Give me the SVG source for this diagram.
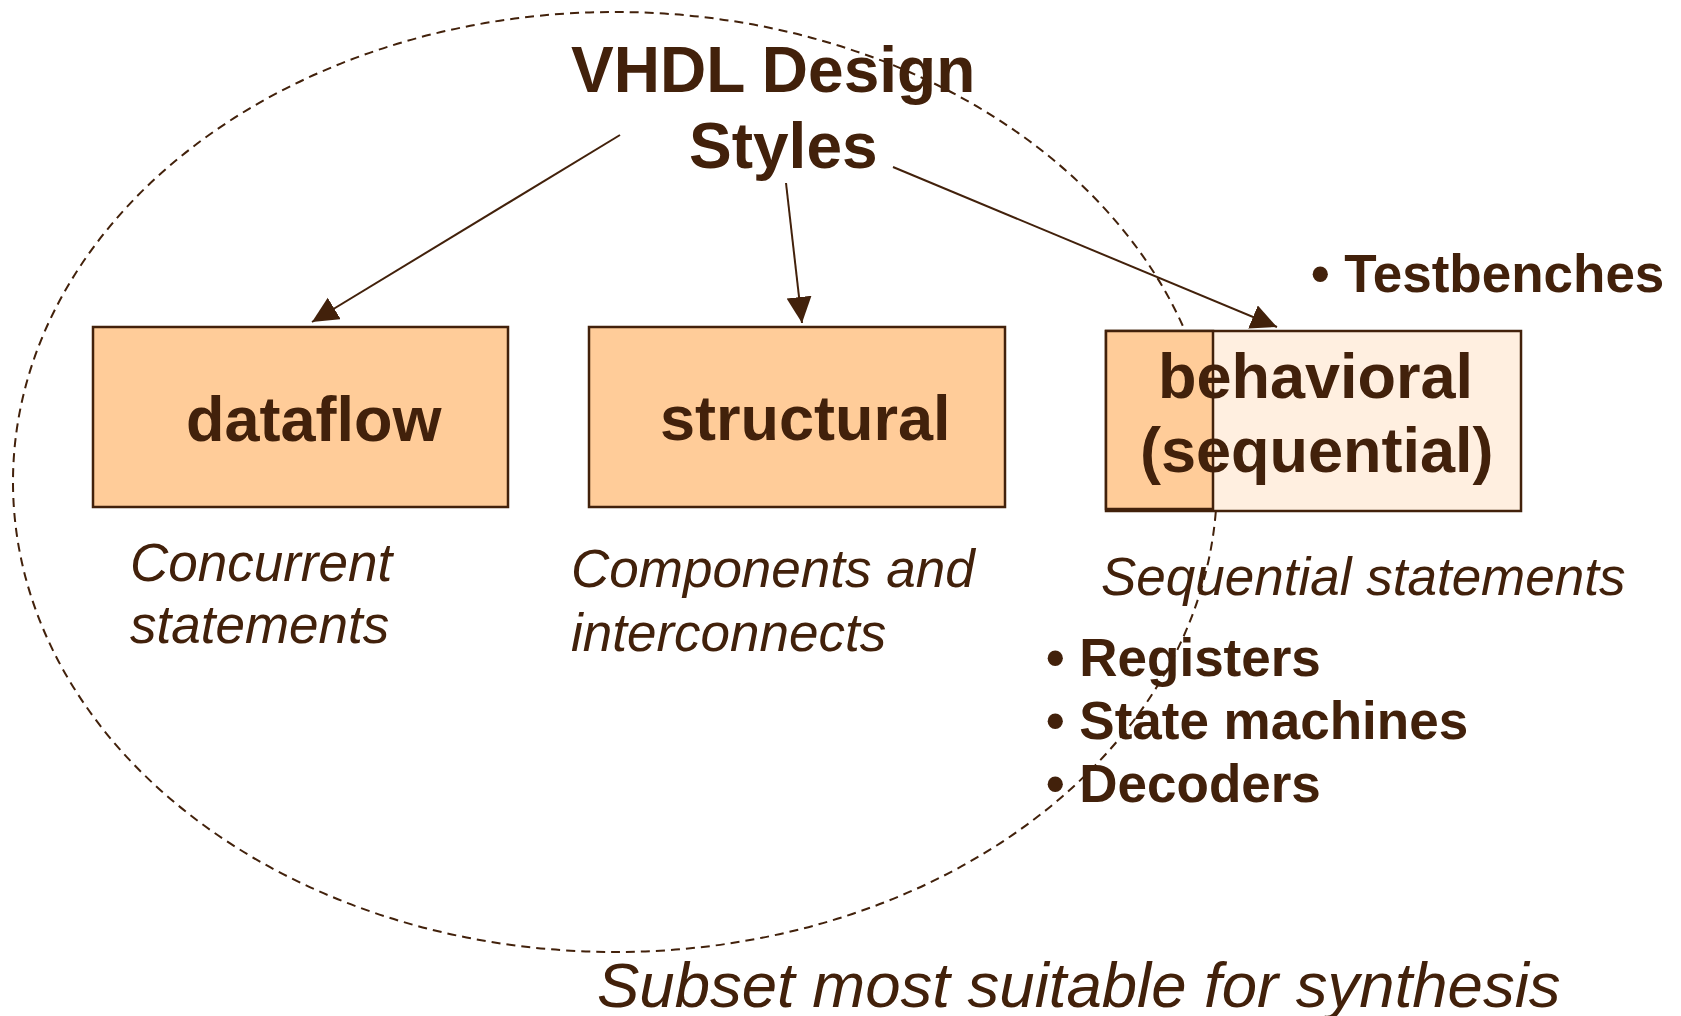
<svg xmlns="http://www.w3.org/2000/svg" width="1681" height="1016" viewBox="0 0 1681 1016">
  <style>
    .ink { fill: #42210b; font-family: "Liberation Sans", Arial, sans-serif; }
    .title { font-size: 64px; font-weight: bold; }
    .box-label { font-size: 63px; font-weight: bold; }
    .note { font-size: 53px; font-style: italic; }
    .bullet { font-size: 53px; font-weight: bold; }
    .box { fill: #ffcc99; stroke: #42210b; stroke-width: 2.5; }
    .box-light { fill: #ffefe0; stroke: #42210b; stroke-width: 2.5; }
    .edge { stroke: #42210b; stroke-width: 2; fill: none; marker-end: url(#head); }
    .scope { fill: none; stroke: #42210b; stroke-width: 2; stroke-dasharray: 9 6; }
  </style>
  <defs>
    <marker id="head" markerUnits="userSpaceOnUse" markerWidth="28" markerHeight="26" refX="26" refY="12.5" orient="auto">
      <path d="M0,0 L26,12.5 L0,25 Z" fill="#42210b"/>
    </marker>
  </defs>

  <rect width="1681" height="1016" fill="#ffffff"/>

  <!-- captions under each style -->
  <g id="captions" class="ink note">
    <text x="130" y="581">Concurrent</text>
    <text x="130" y="643">statements</text>
    <text x="571" y="587">Components and</text>
    <text x="571" y="651">interconnects</text>
    <text x="1101" y="595">Sequential statements</text>
  </g>

  <!-- behavioral examples -->
  <g id="examples" class="ink bullet">
    <text x="1311" y="292">• Testbenches</text>
    <text x="1046" y="676">• Registers</text>
    <text x="1046" y="739">• State machines</text>
    <text x="1046" y="802">• Decoders</text>
  </g>

  <!-- synthesizable subset boundary -->
  <g id="synthesis-subset">
    <ellipse class="scope" cx="615" cy="482" rx="602" ry="470"/>
    <text class="ink note" x="597" y="1007" style="font-size:63.5px">Subset most suitable for synthesis</text>
  </g>

  <g id="title" class="ink title">
    <text x="571" y="92">VHDL Design</text>
    <text x="689" y="168">Styles</text>
  </g>

  <g id="connectors">
    <line class="edge" x1="620" y1="135" x2="312" y2="322"/>
    <line class="edge" x1="786" y1="183" x2="802" y2="323"/>
    <line class="edge" x1="893" y1="167" x2="1277" y2="327"/>
  </g>

  <g id="dataflow">
    <rect class="box" x="93" y="327" width="415" height="180"/>
    <text class="ink box-label" x="186" y="441">dataflow</text>
  </g>

  <g id="structural">
    <rect class="box" x="589" y="327" width="416" height="180"/>
    <text class="ink box-label" x="660" y="440">structural</text>
  </g>

  <g id="behavioral">
    <rect class="box-light" x="1106" y="331" width="415" height="180"/>
    <rect class="box" x="1106" y="331" width="107" height="178"/>
    <text class="ink box-label" x="1158" y="398">behavioral</text>
    <text class="ink box-label" x="1140" y="472">(sequential)</text>
  </g>
</svg>
